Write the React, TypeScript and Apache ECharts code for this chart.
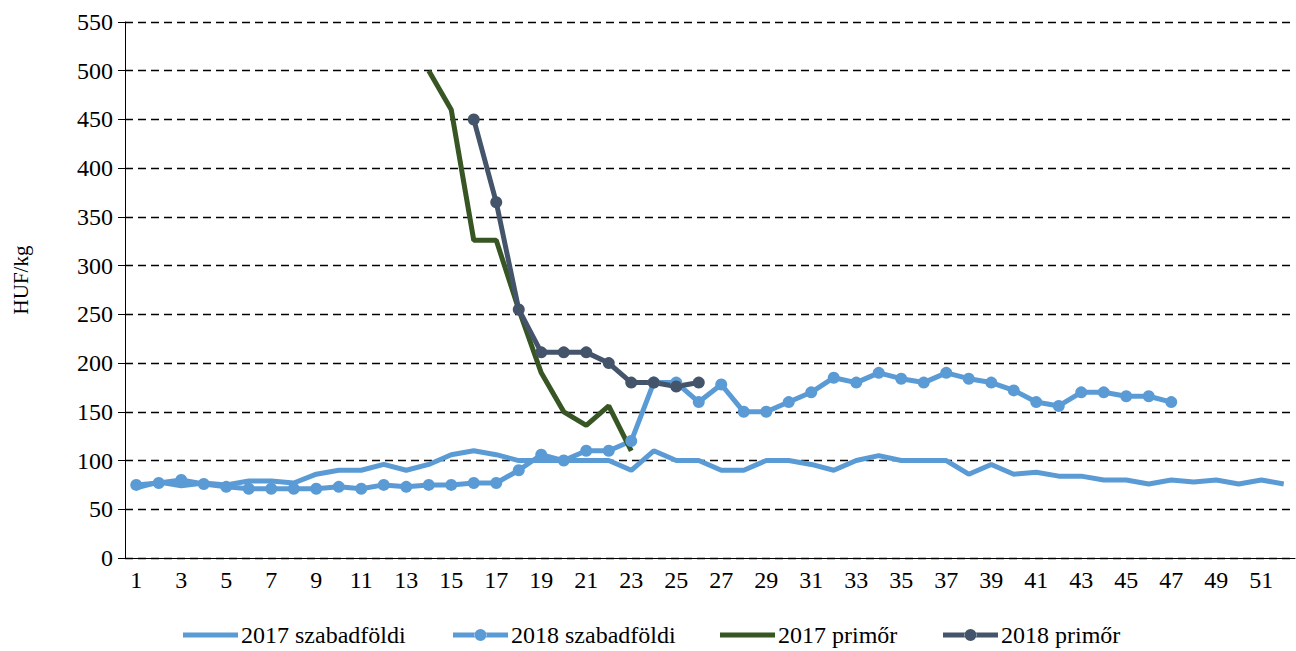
import React, { useEffect, useRef } from "react";
import * as echarts from "echarts";

const weeks: string[] = Array.from({ length: 52 }, (_, i) => String(i + 1));

const s2017Szabad: (number | null)[] = [
  72, 78, 74, 77, 75, 79, 79, 77, 86, 90, 90, 96, 90, 96, 106, 110, 106, 100, 100, 100,
  100, 100, 90, 110, 100, 100, 90, 90, 100, 100, 96, 90, 100, 105, 100, 100, 100, 86, 96, 86,
  88, 84, 84, 80, 80, 76, 80, 78, 80, 76, 80, 76,
];

const s2018Szabad: (number | null)[] = [
  75, 77, 80, 76, 73, 71, 71, 71, 71, 73, 71, 75, 73, 75, 75, 77, 77, 90, 106, 100,
  110, 110, 120, 180, 180, 160, 178, 150, 150, 160, 170, 185, 180, 190, 184, 180, 190, 184, 180, 172,
  160, 156, 170, 170, 166, 166, 160, null, null, null, null, null,
];

const s2017Primor: (number | null)[] = [
  null, null, null, null, null, null, null, null, null, null, null, null, null,
  500, 460, 326, 326, 255, 190, 150, 136, 156, 110,
];

const s2018Primor: (number | null)[] = [
  null, null, null, null, null, null, null, null, null, null, null, null, null, null, null,
  450, 365, 255, 211, 211, 211, 200, 180, 180, 176, 180,
];

const seriesNames = ["2017 szabadföldi", "2018 szabadföldi", "2017 primőr", "2018 primőr"];
const seriesColors = ["#5B9BD5", "#5B9BD5", "#375623", "#44546A"];
const hasMarker = [false, true, false, true];
const legendLeft = [183, 453, 720, 943];
const FONT = "Liberation Serif";

const LINE_ICON = "path://M0,0 M55,12 M0,3.5 L55,3.5 L55,8.5 L0,8.5 Z";
const MARKER_ICON =
  "path://M0,3.5 L22,3.5 L22,8.5 L0,8.5 Z M33,3.5 L55,3.5 L55,8.5 L33,8.5 Z M21.5,6 A6,6 0 1,0 33.5,6 A6,6 0 1,0 21.5,6 Z";

export default function App() {
  const ref = useRef<HTMLDivElement>(null);
  useEffect(() => {
    if (!ref.current) return;
    const chart = echarts.init(ref.current, null, { renderer: "svg" });
    chart.setOption({
      animation: false,
      backgroundColor: "#fff",
      textStyle: { fontFamily: FONT, color: "#000" },
      grid: { left: 125, right: 1, top: 22, bottom: 93, containLabel: false },
      legend: seriesNames.map((name, i) => ({
        top: 623,
        left: legendLeft[i],
        padding: 0,
        itemWidth: 55,
        itemHeight: 12,
        icon: hasMarker[i] ? MARKER_ICON : LINE_ICON,
        itemStyle: { color: seriesColors[i], borderWidth: 0 },
        textStyle: { fontFamily: FONT, fontSize: 24, color: "#000", padding: [0, 0, 0, -2] },
        data: [name],
      })),
      graphic: [
        {
          type: "text",
          x: 21,
          y: 280,
          rotation: Math.PI / 2,
          style: {
            text: "HUF/kg",
            font: "21px Liberation Serif",
            fill: "#000",
            align: "center",
            verticalAlign: "middle",
          },
        },
      ],
      xAxis: {
        type: "category",
        data: weeks,
        boundaryGap: true,
        axisLine: { lineStyle: { color: "#000", width: 1 } },
        axisTick: { interval: 0, length: 8, lineStyle: { color: "#000" } },
        axisLabel: { interval: 1, fontFamily: FONT, fontSize: 24, color: "#000", margin: 10 },
        splitLine: { show: false },
      },
      yAxis: {
        type: "value",
        min: 0,
        max: 550,
        interval: 50,
        axisLine: { show: true, lineStyle: { color: "#000", width: 1 } },
        axisTick: { show: true, length: 7, lineStyle: { color: "#000" } },
        axisLabel: { fontFamily: FONT, fontSize: 24, color: "#000", margin: 12 },
        splitLine: { show: true, lineStyle: { color: "#000", type: [8, 5], width: 1.3 } },
      },
      series: [
        {
          name: seriesNames[0],
          type: "line",
          data: s2017Szabad,
          showSymbol: false,
          symbol: "none",
          lineStyle: { color: seriesColors[0], width: 5 },
          itemStyle: { color: seriesColors[0] },
        },
        {
          name: seriesNames[1],
          type: "line",
          data: s2018Szabad,
          symbol: "circle",
          symbolSize: 12,
          lineStyle: { color: seriesColors[1], width: 5 },
          itemStyle: { color: seriesColors[1] },
        },
        {
          name: seriesNames[2],
          type: "line",
          data: s2017Primor,
          showSymbol: false,
          symbol: "none",
          lineStyle: { color: seriesColors[2], width: 5 },
          itemStyle: { color: seriesColors[2] },
        },
        {
          name: seriesNames[3],
          type: "line",
          data: s2018Primor,
          symbol: "circle",
          symbolSize: 12,
          lineStyle: { color: seriesColors[3], width: 5 },
          itemStyle: { color: seriesColors[3] },
        },
      ],
    });
    return () => chart.dispose();
  }, []);
  return (
    <div
      ref={ref}
      style={{ position: "fixed", left: 0, top: 0, width: 1296, height: 651, background: "#fff" }}
    />
  );
}
